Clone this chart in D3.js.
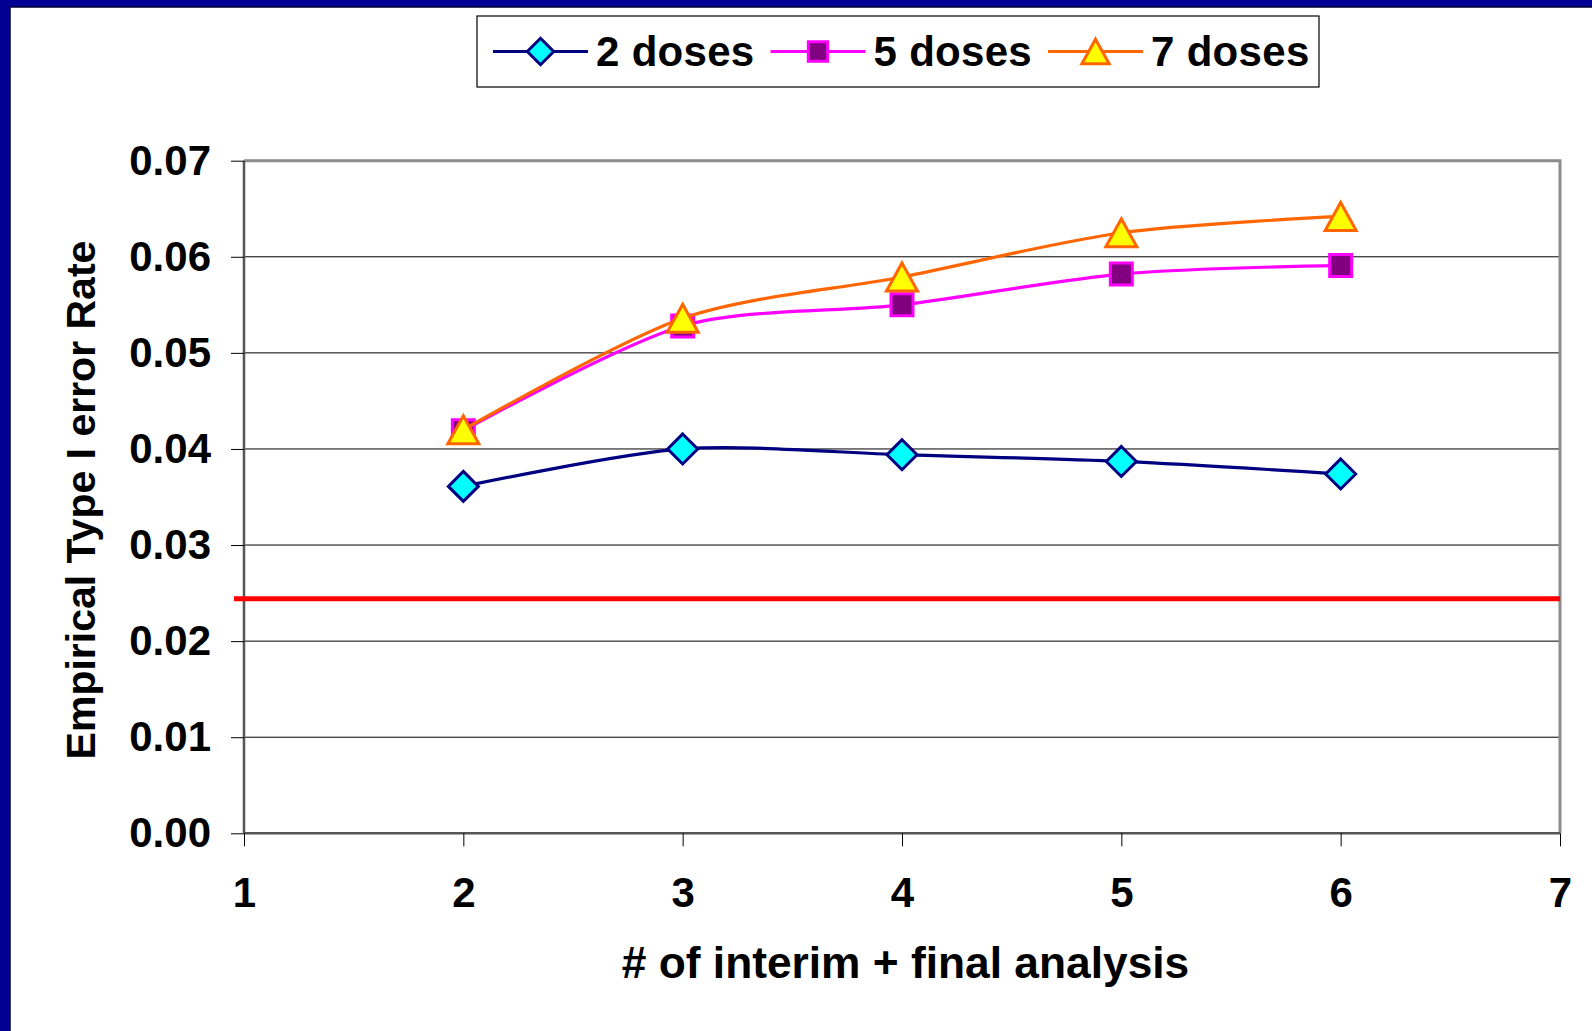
<!DOCTYPE html>
<html>
<head>
<meta charset="utf-8">
<script src="https://cdn.jsdelivr.net/npm/d3@7"></script>
<style>
  html, body { margin: 0; padding: 0; background: #ffffff; }
  svg { display: block; }
  text { font-family: "Liberation Sans", Arial, sans-serif; font-weight: bold; fill: #000; }
</style>
</head>
<body>
<svg id="chart" width="1592" height="1031"></svg>
<script>
// Number of analyses (interim + final) on the x axis
const analyses = [2, 3, 4, 5, 6];
// Empirical type I error rate for each dose count
const doses2 = [0.0361, 0.0400, 0.0394, 0.0387, 0.0374];
const doses5 = [0.0419, 0.0528, 0.0550, 0.0582, 0.0591];
const doses7 = [0.0420, 0.0536, 0.0579, 0.0625, 0.0642];
// Nominal level drawn as a horizontal reference line
const nominalLevel = 0.0244;

const seriesNames = ["2 doses", "5 doses", "7 doses"];
const xTicks = [1, 2, 3, 4, 5, 6, 7];
const yTicks = [0, 0.01, 0.02, 0.03, 0.04, 0.05, 0.06, 0.07];

const styles = [
  { line: "#000080", fill: "#00ffff", stroke: "#000080", shape: "diamond" },
  { line: "#ff00ff", fill: "#800080", stroke: "#ff00ff", shape: "square" },
  { line: "#ff6600", fill: "#ffff00", stroke: "#ff6600", shape: "triangle" }
];
const seriesValues = [doses2, doses5, doses7];

const svg = d3.select("#chart");
const W = 1592, H = 1031;

// Slide frame: blue bands along the top and the left edge
svg.append("rect").attr("x", 0).attr("y", 0).attr("width", W).attr("height", H).attr("fill", "#ffffff");
svg.append("rect").attr("x", 0).attr("y", 0).attr("width", W).attr("height", 7).attr("fill", "#000093");
svg.append("rect").attr("x", 0).attr("y", 0).attr("width", 10).attr("height", H).attr("fill", "#000093");
svg.append("line").attr("x1", 10).attr("x2", W).attr("y1", 7).attr("y2", 7).attr("stroke", "#000033").attr("stroke-width", 1.5);
svg.append("line").attr("x1", 10).attr("x2", 10).attr("y1", 7).attr("y2", H).attr("stroke", "#000033").attr("stroke-width", 1.5);

const plot = { left: 244, right: 1560, top: 160.7, bottom: 833.3 };
const x = d3.scaleLinear().domain([1, 7]).range([plot.left, plot.right]);
const y = d3.scaleLinear().domain([0, 0.07]).range([plot.bottom, plot.top]);

// Horizontal gridlines
svg.append("g").selectAll("line")
  .data(yTicks.filter(v => v > 0 && v < 0.07))
  .join("line")
  .attr("x1", plot.left).attr("x2", plot.right)
  .attr("y1", d => y(d)).attr("y2", d => y(d))
  .attr("stroke", "#000").attr("stroke-width", 1);

// Plot area border (top and right)
svg.append("path")
  .attr("d", `M${plot.left},${plot.top}H${plot.right}V${plot.bottom}`)
  .attr("fill", "none").attr("stroke", "#8c8c8c").attr("stroke-width", 3);

// Axes
const yAxis = d3.axisLeft(y).tickValues(yTicks).tickFormat(d3.format(".2f"))
  .tickSize(13).tickPadding(20);
const gy = svg.append("g").attr("transform", `translate(${plot.left},0)`).call(yAxis);
const xAxis = d3.axisBottom(x).tickValues(xTicks).tickFormat(d3.format("d"))
  .tickSize(13).tickPadding(31);
const gx = svg.append("g").attr("transform", `translate(0,${plot.bottom})`).call(xAxis);

[gx, gy].forEach(g => {
  g.select(".domain").attr("stroke", "#555").attr("stroke-width", 2.5);
  g.selectAll(".tick line").attr("stroke", "#000").attr("stroke-width", 1);
  g.selectAll(".tick text").attr("font-size", 42)
    .attr("font-family", '"Liberation Sans", Arial, sans-serif')
    .attr("font-weight", "bold").attr("fill", "#000");
});
gx.select(".domain").attr("d", `M${plot.left},0H${plot.right}`);
gy.select(".domain").attr("d", `M0,${plot.bottom}V${plot.top}`);

// Nominal level reference line
svg.append("line")
  .attr("x1", plot.left - 10).attr("x2", plot.right)
  .attr("y1", y(nominalLevel)).attr("y2", y(nominalLevel))
  .attr("stroke", "#ff0000").attr("stroke-width", 5);

// Axis titles
svg.append("text")
  .attr("x", (plot.left + plot.right) / 2 + 3.5).attr("y", 978)
  .attr("text-anchor", "middle").attr("font-size", 44.3)
  .text("# of interim + final analysis");
svg.append("text")
  .attr("transform", `translate(95,${(plot.top + plot.bottom) / 2 + 3}) rotate(-90)`)
  .attr("text-anchor", "middle").attr("font-size", 41)
  .text("Empirical Type I error Rate");

// Marker shapes
function markerPath(shape, s) {
  if (shape === "diamond") {
    const h = 15 * s;
    return `M0,${-h}L${h},0L0,${h}L${-h},0Z`;
  }
  if (shape === "square") {
    const h = 11 * s;
    return `M${-h},${-h}H${h}V${h}H${-h}Z`;
  }
  const w = 15.5 * s, h = 14 * s;
  return `M0,${-h}L${w},${h}L${-w},${h}Z`;
}

const line = d3.line()
  .x(d => x(d[0]))
  .y(d => y(d[1]))
  .curve(d3.curveCardinal.tension(0.15));

seriesValues.forEach((vals, i) => {
  const st = styles[i];
  const pts = analyses.map((a, j) => [a, vals[j]]);
  const g = svg.append("g");
  g.append("path").datum(pts)
    .attr("d", line)
    .attr("fill", "none").attr("stroke", st.line).attr("stroke-width", 3.2)
    .attr("stroke-linejoin", "round");
  g.selectAll("path.marker").data(pts).join("path")
    .attr("class", "marker")
    .attr("transform", d => `translate(${x(d[0])},${y(d[1])})`)
    .attr("d", markerPath(st.shape, 1))
    .attr("fill", st.fill).attr("stroke", st.stroke).attr("stroke-width", 3)
    .attr("stroke-linejoin", "miter");
});

// Legend
const legend = svg.append("g");
legend.append("rect")
  .attr("x", 477).attr("y", 16).attr("width", 842).attr("height", 71)
  .attr("fill", "#fff").attr("stroke", "#000").attr("stroke-width", 1.2);
let lx = 493;
const ly = 51.5;
seriesNames.forEach((name, i) => {
  const st = styles[i];
  legend.append("line")
    .attr("x1", lx).attr("x2", lx + 95).attr("y1", ly).attr("y2", ly)
    .attr("stroke", st.line).attr("stroke-width", 3.2);
  legend.append("path")
    .attr("transform", `translate(${lx + 47.5},${ly})`)
    .attr("d", markerPath(st.shape, 0.88))
    .attr("fill", st.fill).attr("stroke", st.stroke).attr("stroke-width", 3);
  const t = legend.append("text")
    .attr("x", lx + 103).attr("y", 65.5)
    .attr("font-size", 42).attr("letter-spacing", 0.3)
    .text(name);
  lx = lx + 103 + t.node().getComputedTextLength() + 16;
});
</script>
</body>
</html>
